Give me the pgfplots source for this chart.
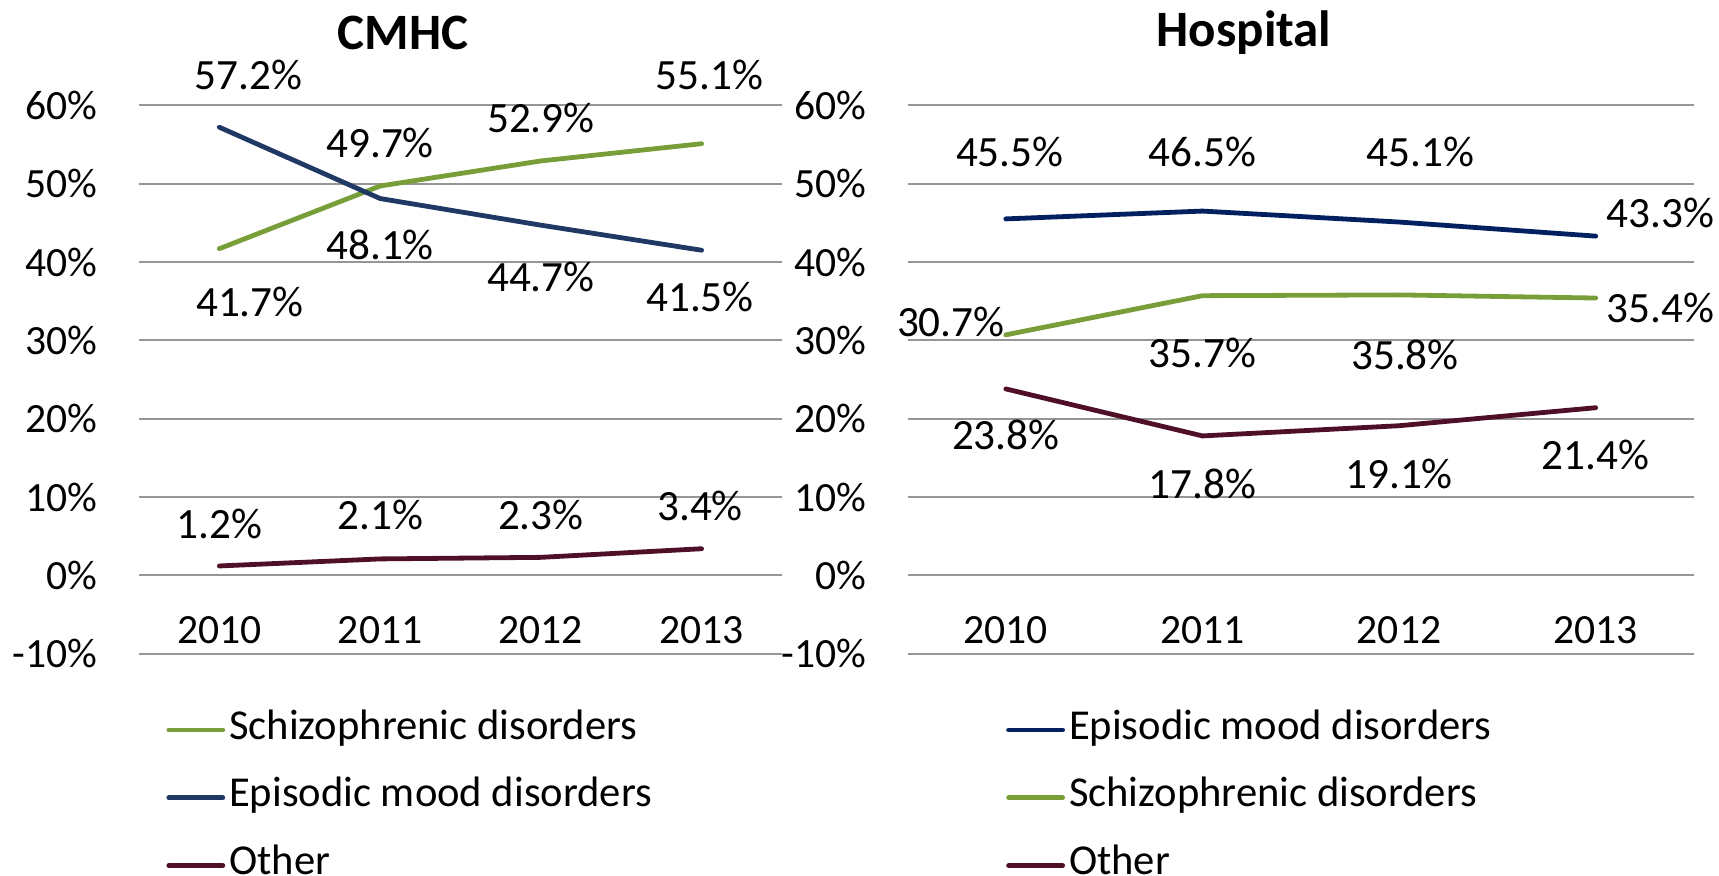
\documentclass[border=0pt]{standalone}
\usepackage{fontspec}
\setmainfont{Carlito}
\usepackage{pgfplots}
\pgfplotsset{compat=1.18}
\definecolor{cgreen}{RGB}{119,158,56}
\definecolor{cblue}{RGB}{31,56,100}
\definecolor{cnavy}{RGB}{0,32,96}
\definecolor{cmaroon}{RGB}{80,15,40}
\definecolor{cgrid}{RGB}{150,150,150}
\newcommand{\fs}{\fontsize{20.8}{24}\selectfont}
\newcommand{\fd}{\fontsize{21.6}{25}\selectfont}
\newcommand{\fl}{\fontsize{21.3}{25}\selectfont}
\pgfplotsset{
 panel/.style={
  scale only axis, anchor=south west, clip=false,
  height=274.2pt, xmin=-0.5, xmax=3.5, ymin=-10, ymax=60,
  xtick={0,1,2,3}, xticklabels={2010,2011,2012,2013},
  ytick={-10,0,10,20,30,40,50,60},
  yticklabels={-10\%,0\%,10\%,20\%,30\%,40\%,50\%,60\%},
  axis line style={draw=none}, major tick length=0pt,
  ymajorgrids, grid style={cgrid, line width=0.9pt},
  tick label style={font=\fs},
  yticklabel style={anchor=east, inner sep=0pt, xshift=-20.5pt},
  xticklabel style={anchor=center, inner sep=0pt, yshift=11.85pt},
  every axis plot/.append style={line width=2.4pt, line cap=round, line join=round, mark=none},
  legend style={draw=none, fill=none, inner sep=0pt, font=\fl, row sep=14.9pt,
    nodes={inner sep=0pt, anchor=west, text height=14pt, text depth=5pt},
    /tikz/every odd column/.append style={column sep=2pt}},
  legend cell align=left,
  legend image code/.code={\draw[#1] (0pt,0pt) -- (27pt,0pt);},
 }
}
\begin{document}
\begin{tikzpicture}
\useasboundingbox (0,0) rectangle (859.5pt,437.5pt);
\node[font=\bfseries\fontsize{25.5}{30}\selectfont] at (201.5pt,421pt) {CMHC};
\node[font=\bfseries\fontsize{25.5}{30}\selectfont] at (622pt,421pt) {Hospital};
\begin{axis}[panel, at={(69.5pt,110.65pt)}, width=321.5pt,
  legend style={at={(axis description cs:0.042,-0.1038)}, anchor=north west}]
\addplot[cgreen] coordinates {(0,41.7) (1,49.7) (2,52.9) (3,55.1)};
\addlegendentry{Schizophrenic disorders}
\addplot[cblue] coordinates {(0,57.2) (1,48.1) (2,44.7) (3,41.5)};
\addlegendentry{Episodic mood disorders}
\addplot[cmaroon] coordinates {(0,1.2) (1,2.1) (2,2.3) (3,3.4)};
\addlegendentry{Other}
\begin{scope}[every node/.style={font=\fd, inner sep=0pt}]
\node at (axis cs:0.18,63.9) {57.2\%};
\node at (axis cs:3.05,63.9) {55.1\%};
\node at (axis cs:2.0,58.4) {52.9\%};
\node at (axis cs:1.0,55.2) {49.7\%};
\node at (axis cs:1.0,42.2) {48.1\%};
\node at (axis cs:2.0,38.1) {44.7\%};
\node at (axis cs:2.99,35.6) {41.5\%};
\node at (axis cs:0.19,34.9) {41.7\%};
\node at (axis cs:0.0,6.6) {1.2\%};
\node at (axis cs:1.0,7.7) {2.1\%};
\node at (axis cs:2.0,7.7) {2.3\%};
\node at (axis cs:2.99,8.8) {3.4\%};
\end{scope}
\end{axis}
\begin{axis}[panel, at={(453.75pt,110.65pt)}, width=393.25pt,
  legend style={at={(axis description cs:0.125,-0.1038)}, anchor=north west}]
\addplot[cnavy] coordinates {(0,45.5) (1,46.5) (2,45.1) (3,43.3)};
\addlegendentry{Episodic mood disorders}
\addplot[cgreen] coordinates {(0,30.7) (1,35.7) (2,35.8) (3,35.4)};
\addlegendentry{Schizophrenic disorders}
\addplot[cmaroon] coordinates {(0,23.8) (1,17.8) (2,19.1) (3,21.4)};
\addlegendentry{Other}
\begin{scope}[every node/.style={font=\fd, inner sep=0pt}]
\node at (axis cs:0.02,54.1) {45.5\%};
\node at (axis cs:1.0,54.1) {46.5\%};
\node at (axis cs:2.11,54.1) {45.1\%};
\node at (axis cs:3.33,46.2) {43.3\%};
\node at (axis cs:-0.28,32.4) {30.7\%};
\node at (axis cs:3.33,34.1) {35.4\%};
\node at (axis cs:1.0,28.4) {35.7\%};
\node at (axis cs:2.03,28.1) {35.8\%};
\node at (axis cs:0.0,17.9) {23.8\%};
\node at (axis cs:1.0,11.7) {17.8\%};
\node at (axis cs:2.0,13.0) {19.1\%};
\node at (axis cs:3.0,15.4) {21.4\%};
\end{scope}
\end{axis}
\end{tikzpicture}
\end{document}
